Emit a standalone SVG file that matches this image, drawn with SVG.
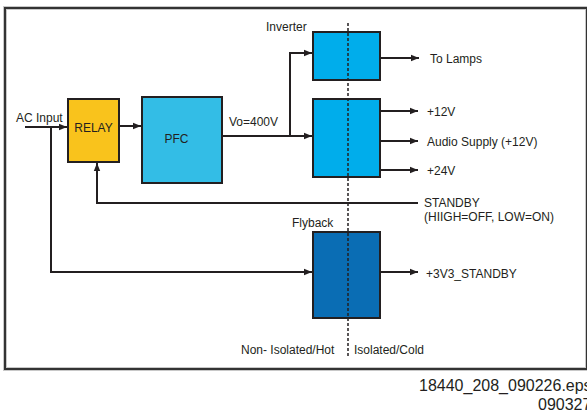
<svg xmlns="http://www.w3.org/2000/svg" width="587" height="412" viewBox="0 0 587 412">
<defs>
<marker id="ah" viewBox="0 0 10 10" refX="10" refY="5" markerWidth="8" markerHeight="8" markerUnits="userSpaceOnUse" orient="auto">
<path d="M0,1 L10,5 L0,9 z" fill="#231f20"/>
</marker>
<style>
text{font-family:"Liberation Sans",Arial,sans-serif;font-size:12px;fill:#231f20}
text.big{font-size:16px}
.box{stroke:#231f20;stroke-width:2}
.ln{stroke:#231f20;stroke-width:2;fill:none}
.ar{marker-end:url(#ah)}
</style>
</defs>
<rect width="587" height="412" fill="#fff"/>
<rect x="5" y="8" width="582" height="361" fill="none" stroke="#c8c8c8" stroke-width="4"/>
<rect x="5" y="8" width="582" height="361" fill="none" stroke="#333" stroke-width="2"/>
<g id="connectors">
<path class="ln ar" d="M25,127 H67"/>
<path class="ln" d="M51,127 V272 H312"/>
<path class="ln ar" d="M119,126 H141"/>
<path class="ln ar" d="M418,203 H97 V163"/>
<path class="ln ar" d="M222,136 H312"/>
<path class="ln ar" d="M290,136 V53 H312"/>
<path class="ln ar" d="M380,58 H419"/>
<path class="ln ar" d="M380,111 H418"/>
<path class="ln ar" d="M380,141 H418"/>
<path class="ln ar" d="M380,170 H418"/>
<path class="ln ar" d="M380,272 H418"/>
<path class="ln ar" d="M290,272 H312"/>
</g>
<g id="relay"><rect class="box" x="68" y="99" width="51" height="63" fill="#f9c31c"/><text x="93.5" y="132" text-anchor="middle">RELAY</text></g>
<g id="pfc"><rect class="box" x="142" y="97" width="80" height="86" fill="#33bde6"/><text x="176.5" y="143" text-anchor="middle">PFC</text></g>
<g id="inverter"><rect class="box" x="313" y="32" width="67" height="48" fill="#00adeb"/><text x="266" y="31">Inverter</text></g>
<g id="main"><rect class="box" x="313" y="99" width="67" height="78" fill="#00adeb"/></g>
<g id="flyback"><rect class="box" x="313" y="232" width="67" height="86" fill="#0a6db4"/><text x="292" y="227">Flyback</text></g>
<line x1="348" y1="23" x2="348" y2="358" stroke="#231f20" stroke-width="1.5" stroke-dasharray="3,2"/>
<text x="16" y="122">AC Input</text>
<text x="229" y="126">Vo=400V</text>
<text x="430" y="63">To Lamps</text>
<text x="427" y="116">+12V</text>
<text x="427" y="146">Audio Supply (+12V)</text>
<text x="427" y="175">+24V</text>
<text x="424" y="207">STANDBY</text>
<text x="424" y="221">(HIIGH=OFF, LOW=ON)</text>
<text x="426" y="278">+3V3_STANDBY</text>
<text x="241" y="354">Non- Isolated/Hot</text>
<text x="354" y="354">Isolated/Cold</text>
<text class="big" x="419" y="391">18440_208_090226.eps</text>
<text class="big" x="538" y="410">090327</text>
</svg>
